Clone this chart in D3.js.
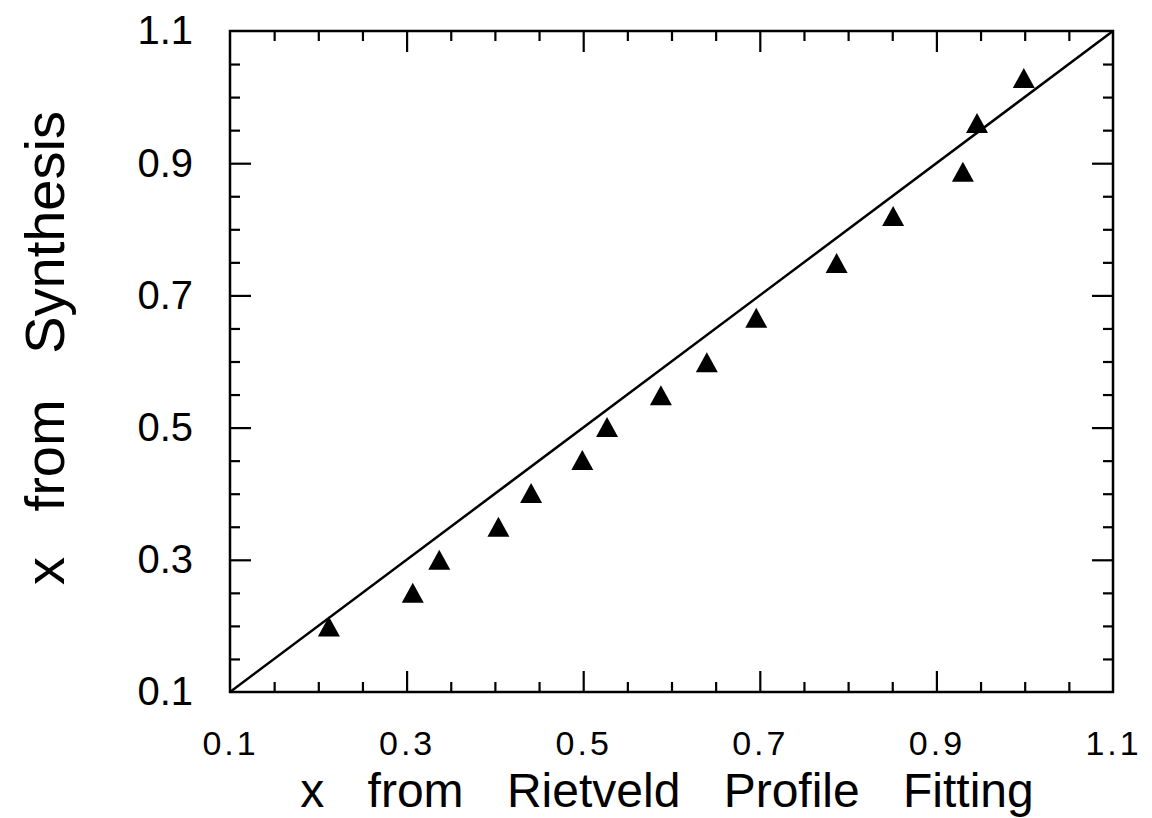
<!DOCTYPE html>
<html>
<head>
<meta charset="utf-8">
<script src="https://cdn.jsdelivr.net/npm/d3@7"></script>
<style>
  body { margin: 0; background: #fff; }
  text { font-family: "Liberation Sans", Arial, sans-serif; fill: #000; }
</style>
</head>
<body>
<svg id="plot" width="1152" height="818"></svg>
<script>
// values
var rietveld  = [0.212, 0.307, 0.337, 0.404, 0.441, 0.499, 0.527, 0.588, 0.640, 0.696, 0.787, 0.851, 0.930, 0.946, 0.999];
var synthesis = [0.199, 0.250, 0.300, 0.350, 0.401, 0.451, 0.501, 0.549, 0.599, 0.666, 0.749, 0.820, 0.887, 0.961, 1.029];
var tickLabels = [0.1, 0.3, 0.5, 0.7, 0.9, 1.1];
var majorTicks = [0.3, 0.5, 0.7, 0.9];
var minorTicks = [0.15, 0.2, 0.25, 0.35, 0.4, 0.45, 0.55, 0.6, 0.65, 0.75, 0.8, 0.85, 0.95, 1.0, 1.05];
var diagonal = [0.1, 1.1];

var svg = d3.select("#plot"),
    margin = {top: 31, right: 39, bottom: 126, left: 230},
    width = +svg.attr("width") - margin.left - margin.right,
    height = +svg.attr("height") - margin.top - margin.bottom;

var chart = svg.append("g").attr("transform", "translate(" + margin.left + "," + margin.top + ")");

var x = d3.scaleLinear().domain([0.1, 1.1]).range([0, width]);
var y = d3.scaleLinear().domain([0.1, 1.1]).range([height, 0]);

// inward ticks on all four sides
function ticks(axis, vals, len, tr) {
    var g = chart.append("g")
        .attr("transform", tr)
        .call(axis.tickValues(vals).tickSize(-len).tickFormat(""));
    g.select(".domain").remove();
    g.selectAll("line").attr("stroke", "#000").attr("stroke-width", 2.2);
}
ticks(d3.axisBottom(x), minorTicks, 10, "translate(0," + height + ")");
ticks(d3.axisBottom(x), majorTicks, 21, "translate(0," + height + ")");
ticks(d3.axisTop(x), minorTicks, 10, "translate(0,0)");
ticks(d3.axisTop(x), majorTicks, 21, "translate(0,0)");
ticks(d3.axisLeft(y), minorTicks, 10, "translate(0,0)");
ticks(d3.axisLeft(y), majorTicks, 21, "translate(0,0)");
ticks(d3.axisRight(y), minorTicks, 10, "translate(" + width + ",0)");
ticks(d3.axisRight(y), majorTicks, 21, "translate(" + width + ",0)");

// tick labels
var xl = chart.append("g")
    .attr("transform", "translate(0," + height + ")")
    .call(d3.axisBottom(x).tickValues(tickLabels).tickSize(0).tickPadding(39).tickFormat(d3.format(".1f")));
xl.select(".domain").remove();
xl.selectAll("text")
    .attr("font-size", 34)
    .attr("letter-spacing", 3)
    .attr("font-family", "Liberation Sans, Arial, sans-serif");

var yl = chart.append("g")
    .call(d3.axisLeft(y).tickValues(tickLabels).tickSize(0).tickPadding(37).tickFormat(d3.format(".1f")));
yl.select(".domain").remove();
yl.selectAll("text").attr("font-size", 40).attr("font-family", "Liberation Sans, Arial, sans-serif");

// frame
chart.append("rect")
    .attr("width", width)
    .attr("height", height)
    .attr("fill", "none")
    .attr("stroke", "#000")
    .attr("stroke-width", 2.5);

// y = x line
chart.append("path")
    .datum(diagonal)
    .attr("fill", "none")
    .attr("stroke", "#000")
    .attr("stroke-width", 2.5)
    .attr("d", d3.line().x(function(d) { return x(d); }).y(function(d) { return y(d); }));

// triangles, centred on their bounding box
var tri = {
    draw: function(context, size) {
        context.moveTo(0, -10);
        context.lineTo(11, 10);
        context.lineTo(-11, 10);
        context.closePath();
    }
};

chart.append("g")
    .selectAll("path")
    .data(rietveld)
    .enter().append("path")
    .attr("transform", function(d, i) { return "translate(" + x(d) + "," + y(synthesis[i]) + ")"; })
    .attr("d", d3.symbol().type(tri))
    .attr("fill", "#000");

// axis titles
svg.append("text")
    .attr("x", 667)
    .attr("y", 807)
    .attr("text-anchor", "middle")
    .attr("font-size", 48)
    .attr("word-spacing", 30)
    .text("x from Rietveld Profile Fitting");

svg.append("text")
    .attr("transform", "translate(64,348) rotate(-90)")
    .attr("text-anchor", "middle")
    .attr("font-size", 56)
    .attr("word-spacing", 30)
    .text("x from Synthesis");
</script>
</body>
</html>
